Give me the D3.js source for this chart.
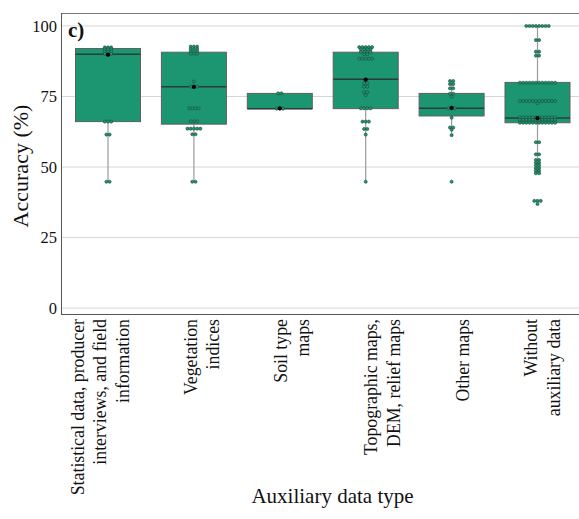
<!DOCTYPE html>
<meta charset="utf-8">
<style>
body { margin: 0; background: #fff; }
text { font-family: "Liberation Serif", "Times New Roman", serif; fill: #111; }
.grid line { stroke: #d6d6d6; stroke-width: 1; }
.box rect { stroke: #5f5f5f; stroke-width: 1; }
.whisker { stroke: #9a9a9a; stroke-width: 1.2; }
.median { stroke: #2d3b36; stroke-width: 1.5; }
.pts circle { fill: #1b9670; stroke: #1f4a3b; stroke-width: 0.6; }
</style>
<svg width="579" height="519"></svg>
<script src="https://d3js.org/d3.v7.min.js"></script>
<script>

var categories = ["stat", "veg", "soil", "topo", "other", "without"];
var tickLabels = [
  ["Statistical data, producer", "interviews, and field", "information"],
  ["Vegetation", "indices"],
  ["Soil type", "maps"],
  ["Topographic maps,", "DEM, relief maps"],
  ["Other maps"],
  ["Without", "auxiliary data"]
];
var yTicks = [0, 25, 50, 75, 100];

// box statistics
var q1 = [66.1, 65.2, 70.7, 70.7, 68.1, 65.7];
var medians = [90.0, 78.5, 70.7, 81.1, 70.8, 67.4];
var q3 = [92.0, 90.7, 76.1, 90.7, 76.1, 80.0];
var whiskerLow = [44.8, 44.8, 70.7, 44.8, 61.3, 47.8];
var whiskerHigh = [92.4, 92.7, 76.1, 92.5, 80.5, 100];
var means = [89.8, 78.4, 70.8, 81.0, 71.0, 67.3];

// individual accuracies
var statPoints = [92.4, 92.4, 92.4, 91.7, 91.7, 91.7, 90.9, 90.9, 90.9, 90.1, 90.1, 90.1,
  66.1, 66.1, 66.1, 61.5, 61.5, 44.8, 44.8];
var vegPoints = [92.7, 92.7, 92.7, 91.8, 91.8, 91.8, 91.0, 91.0, 91.0, 90.2, 90.2, 90.2,
  80.3, 78.5, 78.5, 78.5, 70.8, 70.8, 70.8, 70.8, 66.2, 66.2, 66.2,
  63.6, 63.6, 63.6, 63.6, 63.6, 61.6, 61.6, 44.8, 44.8];
var soilPoints = [76.1, 76.1, 70.7, 70.7, 70.7];
var topoPoints = [92.5, 92.5, 92.5, 92.5, 92.5, 91.7, 91.7, 91.7, 91.7, 90.8, 90.8, 90.8, 90.8,
  90.0, 90.0, 88.4, 88.4, 88.4, 88.4, 88.4, 80.9, 79.7, 79.7, 78.5, 78.5, 76.5, 76.5, 75.5,
  70.8, 70.8, 70.8, 70.8, 66.1, 66.1, 66.1, 63.5, 63.5, 61.5, 44.8];
var otherPoints = [80.5, 80.5, 79.4, 79.4, 77.9, 77.9, 76.0, 76.0, 74.9, 70.8, 70.8, 70.8,
  67.5, 64.0, 64.0, 63.2, 61.3, 44.8];
var withoutPoints = [100, 100, 100, 100, 100, 100, 100, 100, 95.0, 95.0, 90.9, 90.9, 89.5, 89.5,
  79.9, 79.9, 79.9, 79.9, 79.9, 79.9, 79.9, 79.9, 79.9, 79.9, 79.9, 79.9,
  73.4, 73.4, 73.4, 73.4, 73.4, 73.4, 73.4, 73.4, 73.4, 73.4, 73.4, 73.4, 72.6,
  67.6, 67.6, 67.6, 67.6, 67.6, 67.6, 67.6, 67.6, 67.6, 67.6, 67.6, 67.6,
  66.7, 66.7, 66.7, 66.7, 66.7, 66.7, 66.7, 66.7, 66.7, 66.7, 66.7, 66.7,
  65.7, 65.7, 65.7, 65.7, 65.7, 65.7, 65.7, 65.7, 65.7, 65.7, 65.7, 65.7,
  58.8, 58.8, 54.5, 54.5, 52.5, 52.5, 51.5, 51.5, 50.6, 50.6, 49.6, 49.6, 48.7, 48.7,
  47.8, 47.8, 38.0, 38.0, 38.0, 36.9];
var allPoints = [statPoints, vegPoints, soilPoints, topoPoints, otherPoints, withoutPoints];

var svg = d3.select("svg");
var panelL = 61, panelT = 13, panelR = 590, panelB = 314;

var x = d3.scalePoint().domain(categories).range([108, 537.5]);
var y = d3.scaleLinear().domain([-2.1, 104.6]).range([panelB, panelT]);
var boxW = 65, dotR = 1.55, dotStep = 3.2;

// gridlines
svg.append("g").attr("class", "grid")
  .selectAll("line").data(yTicks).enter().append("line")
    .attr("x1", panelL).attr("x2", panelR)
    .attr("y1", function(d) { return y(d); })
    .attr("y2", function(d) { return y(d); });

// panel border
svg.append("line").attr("x1", panelL).attr("x2", panelR).attr("y1", panelT + 0.5).attr("y2", panelT + 0.5)
  .attr("stroke", "#7a7a7a");
svg.append("line").attr("x1", panelL + 0.5).attr("x2", panelL + 0.5).attr("y1", panelT).attr("y2", panelB)
  .attr("stroke", "#555");
svg.append("line").attr("x1", panelL).attr("x2", panelR).attr("y1", panelB + 0.5).attr("y2", panelB + 0.5)
  .attr("stroke", "#555");

// y axis
var yAxis = d3.axisLeft(y).tickValues(yTicks).tickSize(0).tickPadding(4);
var ya = svg.append("g").attr("transform", "translate(" + panelL + ",0)").call(yAxis);
ya.select(".domain").remove();
ya.selectAll("text").style("font-size", "16.5px").style("font-family", "Liberation Serif").attr("fill", "#111");

// whiskers
categories.forEach(function(c, i) {
  var cx = x(c);
  svg.append("line").attr("class", "whisker")
    .attr("x1", cx).attr("x2", cx).attr("y1", y(q1[i])).attr("y2", y(whiskerLow[i]));
  svg.append("line").attr("class", "whisker")
    .attr("x1", cx).attr("x2", cx).attr("y1", y(q3[i])).attr("y2", y(whiskerHigh[i]));
});

// boxes
svg.append("g").attr("class", "box")
  .selectAll("rect").data(categories).enter().append("rect")
    .attr("x", function(d) { return x(d) - boxW / 2; })
    .attr("width", boxW)
    .attr("y", function(d, i) { return y(q3[i]); })
    .attr("height", function(d, i) { return y(q1[i]) - y(q3[i]); })
    .attr("fill", "#1b9670");

svg.append("g").selectAll("line").data(categories).enter().append("line")
  .attr("class", "median")
  .attr("x1", function(d) { return x(d) - boxW / 2; })
  .attr("x2", function(d) { return x(d) + boxW / 2; })
  .attr("y1", function(d, i) { return y(medians[i]); })
  .attr("y2", function(d, i) { return y(medians[i]); });

// points: equal values laid out side by side in a row
var pts = [];
allPoints.forEach(function(vals, i) {
  var rows = d3.group(vals, function(v) { return v; });
  rows.forEach(function(row, v) {
    row.forEach(function(_, k) {
      pts.push({ cat: categories[i], v: v, dx: (k - (row.length - 1) / 2) * dotStep });
    });
  });
});

svg.append("g").attr("class", "pts")
  .selectAll("circle").data(pts).enter().append("circle")
    .attr("cx", function(d) { return x(d.cat) + d.dx; })
    .attr("cy", function(d) { return y(d.v); })
    .attr("r", dotR);

// means
svg.append("g").selectAll("circle").data(categories).enter().append("circle")
  .attr("cx", function(d) { return x(d); })
  .attr("cy", function(d, i) { return y(means[i]); })
  .attr("r", 2.1)
  .attr("fill", "#000");

// x tick labels (rotated, top-aligned under the axis)
var labelShift = [-24.5, 2.8, 6.8, 11.3, 17, -0.2];
categories.forEach(function(c, i) {
  tickLabels[i].forEach(function(line, k) {
    var bx = x(c) + labelShift[i] + k * 22.5;
    svg.append("text")
      .attr("transform", "translate(" + bx + ",319) rotate(-90)")
      .attr("text-anchor", "end")
      .style("font-size", "17.8px")
      .text(line);
  });
});

// titles
svg.append("text")
  .attr("transform", "translate(28,166) rotate(-90)")
  .attr("text-anchor", "middle")
  .style("font-size", "22px")
  .text("Accuracy (%)");

svg.append("text")
  .attr("x", 332.5).attr("y", 503)
  .attr("text-anchor", "middle")
  .style("font-size", "21px")
  .text("Auxiliary data type");

svg.append("text")
  .attr("x", 68).attr("y", 37)
  .style("font-size", "21px")
  .style("font-weight", "bold")
  .text("c)");

</script>
